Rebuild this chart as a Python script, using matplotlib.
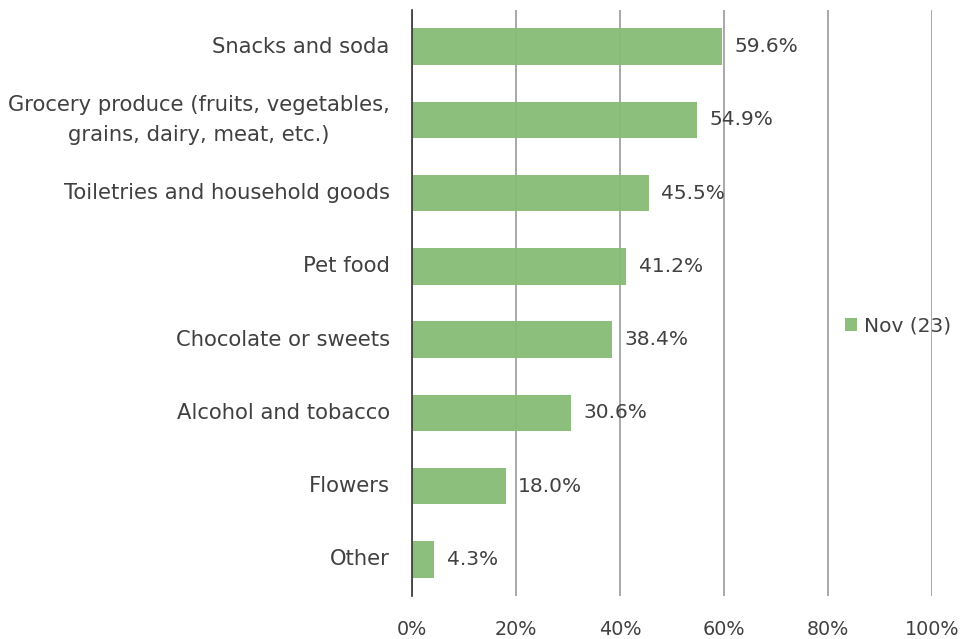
import matplotlib.pyplot as plt
import matplotlib.ticker as mticker

categories = ["Snacks and soda",
              "Grocery produce (fruits, vegetables,\ngrains, dairy, meat, etc.)",
              "Toiletries and household goods",
              "Pet food",
              "Chocolate or sweets",
              "Alcohol and tobacco",
              "Flowers",
              "Other"]
values = [59.6, 54.9, 45.5, 41.2, 38.4, 30.6, 18.0, 4.3]
series_name = "Nov (23)"
xticks = [0, 20, 40, 60, 80, 100]

plt.rcParams['font.family'] = ['DejaVu Sans']
text_color = '#404040'

fig = plt.figure(figsize=(9.63, 6.39), dpi=100)
ax = fig.add_axes([0.4278, 0.0673, 0.54, 0.9171])

ypos = list(range(len(categories)))
bars = ax.barh(ypos, values, height=0.5, color='#85bc74', alpha=0.95,
               label=series_name, zorder=3)
ax.set_ylim(len(categories) - 0.5, -0.5)
ax.set_xlim(0, 100)

ax.set_yticks(ypos)
ax.set_yticklabels(categories, fontsize=15.2, color=text_color, linespacing=1.6,
                   multialignment='center', va='center')
ax.set_xticks(xticks)
ax.xaxis.set_major_formatter(mticker.FuncFormatter(lambda v, p: f"{v:.0f}%"))
ax.tick_params(axis='x', length=0, pad=17, labelsize=13.8, labelcolor=text_color)
ax.tick_params(axis='y', length=0, pad=16, labelcolor=text_color)

ax.grid(axis='x', color='#999999', linewidth=1.2, zorder=4)
ax.set_axisbelow(False)
for s in ['top', 'right', 'bottom']:
    ax.spines[s].set_visible(False)
ax.spines['left'].set_color('#333333')
ax.spines['left'].set_linewidth(1.2)
ax.spines['left'].set_zorder(5)

for i, v in enumerate(values):
    ax.annotate(f"{v:.1f}%", (v, i), xytext=(9, 0), textcoords='offset points',
                va='center', ha='left', fontsize=14.5, color=text_color, zorder=6)

leg = fig.legend(loc='center left', bbox_to_anchor=(0.869, 0.49), frameon=False,
                 fontsize=14.5, handlelength=0.6, handleheight=0.6, handletextpad=0.35,
                 borderaxespad=0)
for t in leg.get_texts():
    t.set_color(text_color)

plt.savefig('out.png', dpi=100)
